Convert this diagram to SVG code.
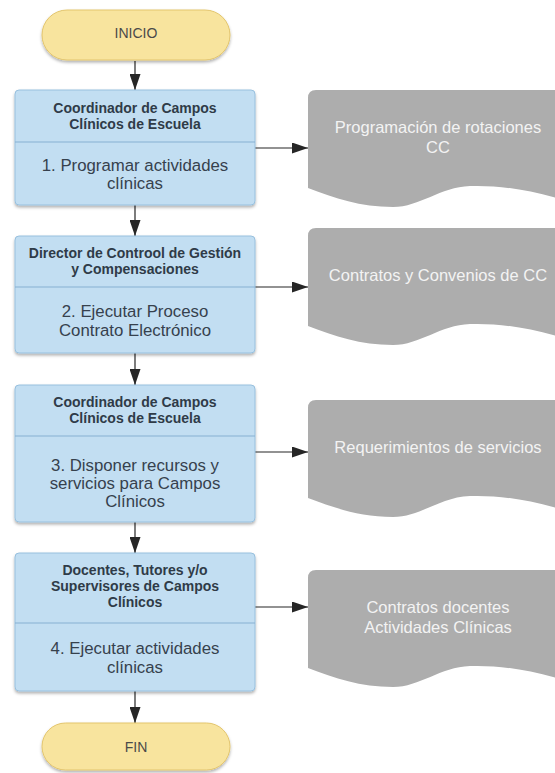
<svg xmlns="http://www.w3.org/2000/svg" width="555" height="773" viewBox="0 0 555 773">
  <defs>
    <filter id="shadow" x="-10%" y="-10%" width="120%" height="130%">
      <feDropShadow dx="0" dy="2" stdDeviation="1.5" flood-color="#000" flood-opacity="0.3"/>
    </filter>
    <marker id="arrow" viewBox="0 0 16 11" refX="16" refY="5.5" markerWidth="16" markerHeight="11" markerUnits="userSpaceOnUse" orient="auto">
      <path d="M0,0 L16,5.5 L0,11 Z" fill="#262626"/>
    </marker>
  </defs>
  <style>
    .term { fill: #f8e49e; stroke: #e3c56c; stroke-width: 1; }
    .term-text { font-family: "Liberation Sans", Arial, sans-serif; font-size: 14px; fill: #4a4a4a; text-anchor: middle; }
    .box { fill: #c2def2; stroke: #98c0de; stroke-width: 1; }
    .divider { stroke: #86b0d2; stroke-width: 1; }
    .head { font-family: "Liberation Sans", Arial, sans-serif; font-size: 14px; font-weight: bold; fill: #2f3b48; text-anchor: middle; }
    .body { font-family: "Liberation Sans", Arial, sans-serif; font-size: 16.8px; fill: #36414d; text-anchor: middle; }
    .doc { fill: #adadad; }
    .doc-text { font-family: "Liberation Sans", Arial, sans-serif; font-size: 16.5px; fill: #f3f3f3; text-anchor: middle; }
    .conn { stroke: #262626; stroke-width: 1.2; fill: none; marker-end: url(#arrow); }
  </style>

  <rect width="555" height="773" fill="#ffffff"/>

  <!-- connectors -->
  <g id="connectors">
    <line class="conn" x1="135" y1="61" x2="135" y2="90"/>
    <line class="conn" x1="135" y1="205" x2="135" y2="236"/>
    <line class="conn" x1="135" y1="353" x2="135" y2="385"/>
    <line class="conn" x1="135" y1="522" x2="135" y2="553"/>
    <line class="conn" x1="135" y1="691" x2="135" y2="723"/>
    <line class="conn" x1="255" y1="148" x2="308" y2="148"/>
    <line class="conn" x1="255" y1="287" x2="308" y2="287"/>
    <line class="conn" x1="255" y1="452" x2="308" y2="452"/>
    <line class="conn" x1="255" y1="607" x2="308" y2="607"/>
  </g>

  <!-- start -->
  <g id="inicio">
    <rect class="term" x="42" y="10" width="188" height="50" rx="25" ry="25" filter="url(#shadow)"/>
    <text class="term-text" x="136" y="38">INICIO</text>
  </g>

  <!-- step 1 -->
  <g id="paso1">
    <rect class="box" x="15" y="90" width="240" height="115" rx="4" filter="url(#shadow)"/>
    <line class="divider" x1="15" y1="142" x2="255" y2="142"/>
    <text class="head" x="135" y="113">Coordinador de Campos</text>
    <text class="head" x="135" y="129">Clínicos de Escuela</text>
    <text class="body" x="135" y="171">1. Programar actividades</text>
    <text class="body" x="135" y="189">clínicas</text>
  </g>

  <!-- step 2 -->
  <g id="paso2">
    <rect class="box" x="15" y="236" width="240" height="117" rx="4" filter="url(#shadow)"/>
    <line class="divider" x1="15" y1="287" x2="255" y2="287"/>
    <text class="head" x="135" y="258">Director de Controol de Gestión</text>
    <text class="head" x="135" y="274">y Compensaciones</text>
    <text class="body" x="135" y="317">2. Ejecutar Proceso</text>
    <text class="body" x="135" y="336">Contrato Electrónico</text>
  </g>

  <!-- step 3 -->
  <g id="paso3">
    <rect class="box" x="15" y="385" width="240" height="137" rx="4" filter="url(#shadow)"/>
    <line class="divider" x1="15" y1="436" x2="255" y2="436"/>
    <text class="head" x="135" y="407">Coordinador de Campos</text>
    <text class="head" x="135" y="423">Clínicos de Escuela</text>
    <text class="body" x="135" y="471">3. Disponer recursos y</text>
    <text class="body" x="135" y="489">servicios para Campos</text>
    <text class="body" x="135" y="507">Clínicos</text>
  </g>

  <!-- step 4 -->
  <g id="paso4">
    <rect class="box" x="15" y="553" width="240" height="138" rx="4" filter="url(#shadow)"/>
    <line class="divider" x1="15" y1="623" x2="255" y2="623"/>
    <text class="head" x="135" y="575">Docentes, Tutores y/o</text>
    <text class="head" x="135" y="591">Supervisores de Campos</text>
    <text class="head" x="135" y="607">Clínicos</text>
    <text class="body" x="135" y="654">4. Ejecutar actividades</text>
    <text class="body" x="135" y="673">clínicas</text>
  </g>

  <!-- end -->
  <g id="fin">
    <rect class="term" x="42" y="723" width="188" height="47" rx="23.5" ry="23.5" filter="url(#shadow)"/>
    <text class="term-text" x="136" y="752">FIN</text>
  </g>

  <!-- documents -->
  <g id="doc1">
    <path class="doc" d="M316,90 H568 V201 C530,190 500,185 470,186 C440,187 420,207 393,207 C360,207 335,198 308,188 V98 Q308,90 316,90 Z"/>
    <text class="doc-text" x="438" y="133">Programación de rotaciones</text>
    <text class="doc-text" x="438" y="153">CC</text>
  </g>

  <g id="doc2">
    <path class="doc" d="M316,228 H568 V339 C530,328 500,323 470,324 C440,325 420,345 393,345 C360,345 335,336 308,326 V236 Q308,228 316,228 Z"/>
    <text class="doc-text" x="438" y="281">Contratos y Convenios de CC</text>
  </g>

  <g id="doc3">
    <path class="doc" d="M316,400 H568 V511 C530,500 500,495 470,496 C440,497 420,517 393,517 C360,517 335,508 308,498 V408 Q308,400 316,400 Z"/>
    <text class="doc-text" x="438" y="453">Requerimientos de servicios</text>
  </g>

  <g id="doc4">
    <path class="doc" d="M316,570 H568 V681 C530,670 500,665 470,666 C440,667 420,687 393,687 C360,687 335,678 308,668 V578 Q308,570 316,570 Z"/>
    <text class="doc-text" x="438" y="613">Contratos docentes</text>
    <text class="doc-text" x="438" y="633">Actividades Clínicas</text>
  </g>
</svg>
